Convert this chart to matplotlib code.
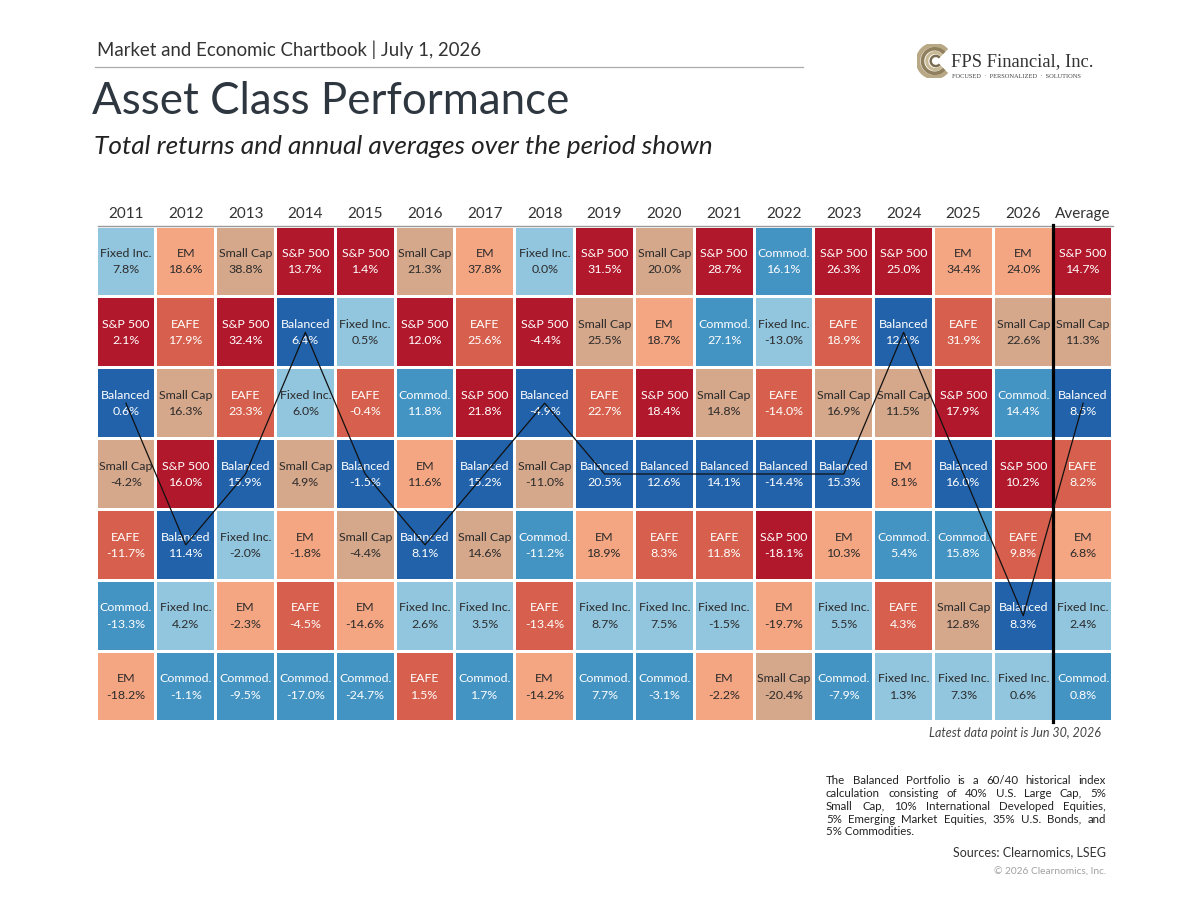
import matplotlib
matplotlib.use("Agg")
import matplotlib.pyplot as plt
from matplotlib.patches import Rectangle, Arc

plt.rcParams['font.family'] = ['Lato', 'DejaVu Sans']

# column headers
columns = ['2011', '2012', '2013', '2014', '2015', '2016', '2017', '2018',
           '2019', '2020', '2021', '2022', '2023', '2024', '2025', '2026', 'Average']

# asset classes ranked best to worst in each column
ranked_assets = [
    ['Fixed Inc.', 'S&P 500', 'Balanced', 'Small Cap', 'EAFE', 'Commod.', 'EM'],
    ['EM', 'EAFE', 'Small Cap', 'S&P 500', 'Balanced', 'Fixed Inc.', 'Commod.'],
    ['Small Cap', 'S&P 500', 'EAFE', 'Balanced', 'Fixed Inc.', 'EM', 'Commod.'],
    ['S&P 500', 'Balanced', 'Fixed Inc.', 'Small Cap', 'EM', 'EAFE', 'Commod.'],
    ['S&P 500', 'Fixed Inc.', 'EAFE', 'Balanced', 'Small Cap', 'EM', 'Commod.'],
    ['Small Cap', 'S&P 500', 'Commod.', 'EM', 'Balanced', 'Fixed Inc.', 'EAFE'],
    ['EM', 'EAFE', 'S&P 500', 'Balanced', 'Small Cap', 'Fixed Inc.', 'Commod.'],
    ['Fixed Inc.', 'S&P 500', 'Balanced', 'Small Cap', 'Commod.', 'EAFE', 'EM'],
    ['S&P 500', 'Small Cap', 'EAFE', 'Balanced', 'EM', 'Fixed Inc.', 'Commod.'],
    ['Small Cap', 'EM', 'S&P 500', 'Balanced', 'EAFE', 'Fixed Inc.', 'Commod.'],
    ['S&P 500', 'Commod.', 'Small Cap', 'Balanced', 'EAFE', 'Fixed Inc.', 'EM'],
    ['Commod.', 'Fixed Inc.', 'EAFE', 'Balanced', 'S&P 500', 'EM', 'Small Cap'],
    ['S&P 500', 'EAFE', 'Small Cap', 'Balanced', 'EM', 'Fixed Inc.', 'Commod.'],
    ['S&P 500', 'Balanced', 'Small Cap', 'EM', 'Commod.', 'EAFE', 'Fixed Inc.'],
    ['EM', 'EAFE', 'S&P 500', 'Balanced', 'Commod.', 'Small Cap', 'Fixed Inc.'],
    ['EM', 'Small Cap', 'Commod.', 'S&P 500', 'EAFE', 'Balanced', 'Fixed Inc.'],
    ['S&P 500', 'Small Cap', 'Balanced', 'EAFE', 'EM', 'Fixed Inc.', 'Commod.'],
]

# total returns (%) in the same order
ranked_returns = [
    [7.8, 2.1, 0.6, -4.2, -11.7, -13.3, -18.2],
    [18.6, 17.9, 16.3, 16.0, 11.4, 4.2, -1.1],
    [38.8, 32.4, 23.3, 15.9, -2.0, -2.3, -9.5],
    [13.7, 6.4, 6.0, 4.9, -1.8, -4.5, -17.0],
    [1.4, 0.5, -0.4, -1.5, -4.4, -14.6, -24.7],
    [21.3, 12.0, 11.8, 11.6, 8.1, 2.6, 1.5],
    [37.8, 25.6, 21.8, 15.2, 14.6, 3.5, 1.7],
    [0.0, -4.4, -4.9, -11.0, -11.2, -13.4, -14.2],
    [31.5, 25.5, 22.7, 20.5, 18.9, 8.7, 7.7],
    [20.0, 18.7, 18.4, 12.6, 8.3, 7.5, -3.1],
    [28.7, 27.1, 14.8, 14.1, 11.8, -1.5, -2.2],
    [16.1, -13.0, -14.0, -14.4, -18.1, -19.7, -20.4],
    [26.3, 18.9, 16.9, 15.3, 10.3, 5.5, -7.9],
    [25.0, 12.1, 11.5, 8.1, 5.4, 4.3, 1.3],
    [34.4, 31.9, 17.9, 16.0, 15.8, 12.8, 7.3],
    [24.0, 22.6, 14.4, 10.2, 9.8, 8.3, 0.6],
    [14.7, 11.3, 8.5, 8.2, 6.8, 2.4, 0.8],
]

asset_colors = {
    'S&P 500': '#b2182b',
    'EAFE': '#d6604d',
    'EM': '#f4a582',
    'Small Cap': '#d5a78b',
    'Balanced': '#2162ab',
    'Commod.': '#4393c3',
    'Fixed Inc.': '#92c5de',
}
dark_text = {'EM', 'Small Cap', 'Fixed Inc.'}

W, H = 1200, 900


def px(x, y):
    return x / W, 1 - y / H


fig = plt.figure(figsize=(12, 9), dpi=100)
fig.patch.set_facecolor('white')

# grid axes: left 96, right 1113, top 226, bottom 722 (pixels)
ax = fig.add_axes([96 / W, 1 - 722 / H, (1113 - 96) / W, (722 - 226) / H])
ncol = len(columns)
nrow = len(ranked_assets[0])
ax.set_xlim(0, ncol)
ax.set_ylim(nrow, 0)
ax.axis('off')

gx, gy = 0.026, 0.022
for i, (names, vals) in enumerate(zip(ranked_assets, ranked_returns)):
    for j, (name, v) in enumerate(zip(names, vals)):
        ax.add_patch(Rectangle((i + gx, j + gy), 1 - 2 * gx, 1 - 2 * gy,
                               facecolor=asset_colors[name], edgecolor='none'))
        tc = '#2b2b2b' if name in dark_text else 'white'
        ax.text(i + 0.5, j + 0.39, name, ha='center', va='center',
                fontsize=8.9, color=tc)
        ax.text(i + 0.5, j + 0.62, '%.1f%%' % v, ha='center', va='center',
                fontsize=8.9, color=tc)
    ax.text(i + 0.5, -0.17, columns[i], ha='center', va='center',
            fontsize=11, color='#333333', clip_on=False)

# header rule and separator before Average
ax.plot([0.03, ncol], [0, 0], color='#9a9a9a', lw=1, clip_on=False)
ax.plot([ncol - 1, ncol - 1], [-0.02, nrow], color='black', lw=2.3, clip_on=False)

# Balanced portfolio path
bx = [i + 0.5 for i in range(ncol)]
by = [names.index('Balanced') + 0.5 for names in ranked_assets]
ax.plot(bx, by, color='#111111', lw=0.9, zorder=5)

# header
fig.text(*px(97, 50), 'Market and Economic Chartbook | July 1, 2026',
         fontsize=13.4, color='#333333', va='center', ha='left')
fig.add_artist(plt.Line2D([95 / W, 803 / W], [1 - 67 / H, 1 - 67 / H],
                          color='#aaaaaa', lw=0.9))
fig.text(*px(92, 102), 'Asset Class Performance', fontsize=31.6,
         color='#2e3640', va='center', ha='left')
fig.text(*px(94, 146), 'Total returns and annual averages over the period shown',
         fontsize=18.9, style='italic', color='#222222', va='center', ha='left')

# logo
lax = fig.add_axes([917 / W, 1 - 78 / H, 34 / W, 34 / H])
lax.set_xlim(-1, 1)
lax.set_ylim(-1, 1)
lax.set_aspect('equal')
lax.axis('off')
for r, c, lw in [(0.95, '#b9a886', 3.2), (0.72, '#8f7f5c', 2.6),
                 (0.5, '#c8b994', 2.2), (0.3, '#7a6d52', 1.8)]:
    lax.add_patch(Arc((0.15 * (1 - r), 0), 2 * r, 2 * r, theta1=40, theta2=320,
                      color=c, lw=lw))
fig.text(*px(951, 62), 'FPS Financial, Inc.', fontsize=13.3,
         family=['Liberation Serif', 'DejaVu Serif'], color='#333333',
         va='center', ha='left')
fig.text(*px(952, 76), 'FOCUSED  ·  PERSONALIZED  ·  SOLUTIONS', fontsize=4.6,
         family=['Liberation Serif', 'DejaVu Serif'], color='#444444',
         va='center', ha='left')

fig.text(*px(1101, 733), 'Latest data point is Jun 30, 2026', fontsize=9,
         style='italic', color='#444444', va='center', ha='right')

# footnote, justified
note_lines = [
    'The Balanced Portfolio is a 60/40 historical index',
    'calculation consisting of 40% U.S. Large Cap, 5%',
    'Small Cap, 10% International Developed Equities,',
    '5% Emerging Market Equities, 35% U.S. Bonds, and',
    '5% Commodities.',
]
note_size = 8.3
renderer = fig.canvas.get_renderer()
x0, x1, y0, dy = 826, 1106, 781, 12.7
for k, line in enumerate(note_lines):
    y = y0 + k * dy
    if k == len(note_lines) - 1:
        fig.text(*px(x0, y), line, fontsize=note_size, color='#222222', va='center')
        continue
    words = line.split()
    texts = [fig.text(0, 0, w, fontsize=note_size, color='#222222', va='center')
             for w in words]
    widths = [t.get_window_extent(renderer).width for t in texts]
    space = max((x1 - x0 - sum(widths)) / (len(words) - 1), 1.5)
    x = x0
    for t, w in zip(texts, widths):
        t.set_position(px(x, y))
        x += w + space

fig.text(*px(1106, 852), 'Sources: Clearnomics, LSEG', fontsize=9,
         color='#333333', va='center', ha='right')
fig.text(*px(1106, 872), '© 2026 Clearnomics, Inc.', fontsize=7.3,
         color='#a0a0a0', va='center', ha='right')

fig.savefig('out.png', dpi=100)
